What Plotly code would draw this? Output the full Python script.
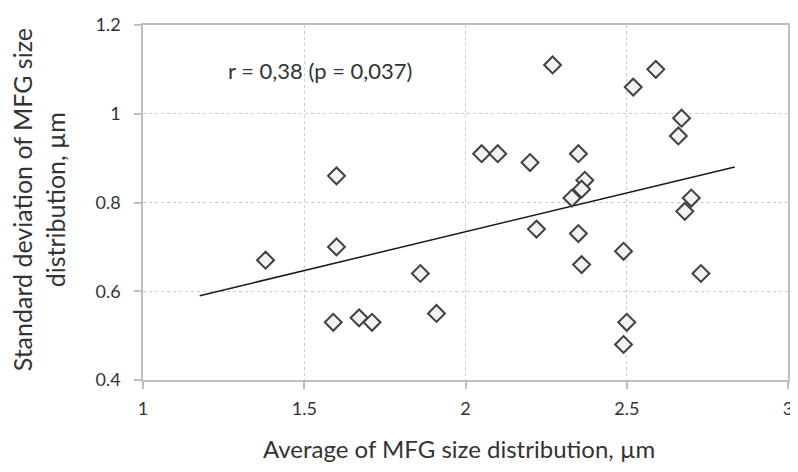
import plotly.graph_objects as go

# Data
avg_size = [1.60, 2.27, 2.59, 2.52, 2.67, 2.66, 2.05, 2.10, 2.20, 2.35,
            2.37, 2.36, 2.33, 2.70, 1.38, 1.60, 1.86, 1.59, 1.67, 1.71,
            1.91, 2.22, 2.35, 2.36, 2.49, 2.50, 2.49, 2.68, 2.73]
sd_size = [0.86, 1.11, 1.10, 1.06, 0.99, 0.95, 0.91, 0.91, 0.89, 0.91,
           0.85, 0.83, 0.81, 0.81, 0.67, 0.70, 0.64, 0.53, 0.54, 0.53,
           0.55, 0.74, 0.73, 0.66, 0.69, 0.53, 0.48, 0.78, 0.64]
trend_x = [1.176, 2.835]
trend_y = [0.590, 0.880]

x_ticks = [1, 1.5, 2, 2.5, 3]
x_tick_labels = ["1", "1.5", "2", "2.5", "3"]
y_ticks = [0.4, 0.6, 0.8, 1.0, 1.2]
y_tick_labels = ["0.4", "0.6", "0.8", "1", "1.2"]

FONT = "Lato"
TXT = "#333333"

# page body has an 8px default margin, so the figure is sized to fit the window
W, H = 790, 456
L, R, T, B = 135, 5, 10, 84
PW, PH = W - L - R, H - T - B

fig = go.Figure()
fig.add_trace(go.Scatter(
    x=trend_x, y=trend_y, mode="lines",
    line=dict(color="#1a1a1a", width=1.5),
    showlegend=False, hoverinfo="skip"))
fig.add_trace(go.Scatter(
    x=avg_size, y=sd_size, mode="markers",
    marker=dict(symbol="diamond", size=13, color="#f2f2f2",
                line=dict(color="#404040", width=2)),
    showlegend=False))

axis_common = dict(
    showline=True, mirror=True, linecolor="#bfbfbf", linewidth=1.5,
    showgrid=True, gridcolor="#cccccc", griddash="dot", gridwidth=1,
    ticks="outside", ticklen=7, tickcolor="#bfbfbf", tickwidth=1.5,
    zeroline=False, tickfont=dict(size=18, color=TXT, family=FONT),
    ticklabeloverflow="allow",
)

fig.update_layout(
    width=W, height=H,
    margin=dict(l=L, r=R, t=T, b=B),
    paper_bgcolor="white", plot_bgcolor="white",
    font=dict(family=FONT, color=TXT, size=18),
    xaxis=dict(range=[1, 3], tickvals=x_ticks, ticktext=x_tick_labels,
               ticklabelstandoff=5, **axis_common),
    yaxis=dict(range=[0.4, 1.2], tickvals=y_ticks, ticktext=y_tick_labels,
               ticklabelstandoff=10, **axis_common),
    annotations=[
        dict(text="r = 0,38 (p = 0,037)", x=1.257, y=1.097, xref="x", yref="y",
             xanchor="left", yanchor="middle", showarrow=False,
             font=dict(size=22, color=TXT, family=FONT)),
        dict(text="Average of MFG size distribution, µm", x=(453 - L) / PW,
             y=-(442 - (H - B)) / PH, xref="paper", yref="paper",
             xanchor="center", yanchor="middle", showarrow=False,
             font=dict(size=24, color=TXT, family=FONT)),
        dict(text="Standard deviation of MFG size<br>distribution, µm",
             x=-(L - 30) / PW, y=((H - B) - 188) / PH, xref="paper", yref="paper",
             xanchor="center", yanchor="middle", showarrow=False, textangle=-90,
             font=dict(size=25, color=TXT, family=FONT)),
    ],
)

fig.write_html("out.html")
